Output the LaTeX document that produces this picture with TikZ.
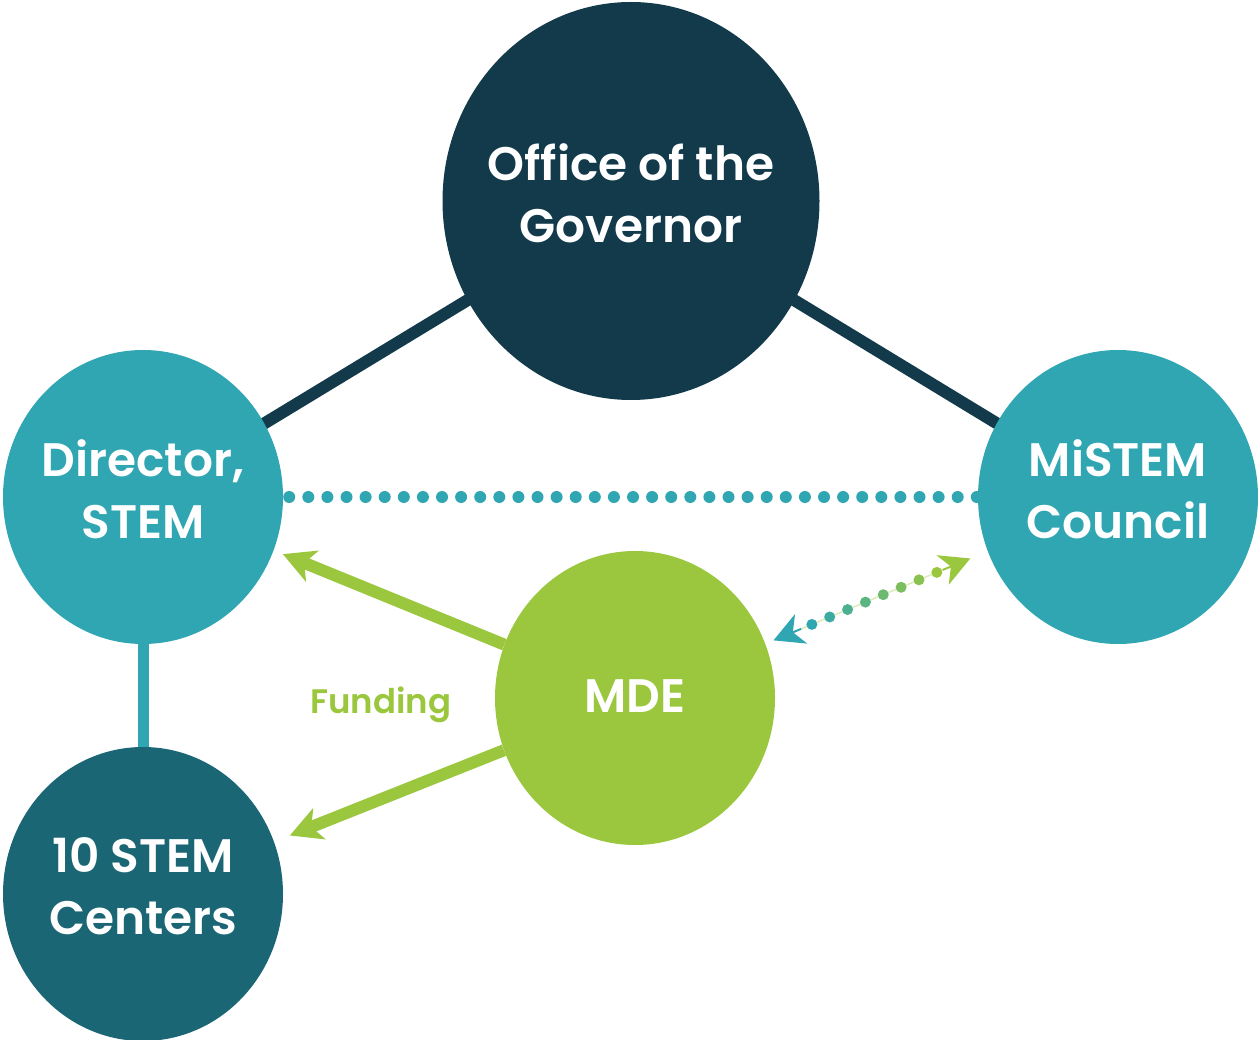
\documentclass[tikz,border=0pt]{standalone}
\usepackage{fontspec}
\setmainfont{Poppins}[BoldFont={Poppins SemiBold}]
\usepackage{tikz}
\usetikzlibrary{arrows.meta, shapes, positioning, calc, backgrounds}
\definecolor{govnavy}{HTML}{133A4B}
\definecolor{stemteal}{HTML}{2FA6B2}
\definecolor{centerteal}{HTML}{1B6675}
\definecolor{mdegreen}{HTML}{9AC73D}
\tikzset{
         mytext/.style={align=center, text=white, yshift=8pt, font=\fontsize{47}{62}\selectfont\bfseries},
         mycirc/.style={ellipse, inner sep=0pt, minimum width=280pt, minimum height=294pt},
         mygov/.style={mycirc, fill=govnavy, minimum width=377pt, minimum height=398pt},
         mylink/.style={line width=12pt},
         mydots/.style={stemteal, line width=12pt, line cap=round, dash pattern=on 0pt off 19.1pt},
         myfund/.style={-{Stealth[length=32pt,width=34pt,inset=9pt,line width=0pt]}, mdegreen, line width=12pt},
         myhead/.style={-{Stealth[length=30pt,width=32pt,inset=9pt,line width=0pt]}, line width=2pt}
      }

\begin{document}
\begin{tikzpicture}[x=1pt,y=-1pt]
  \useasboundingbox (0,0) rectangle (1258,1040);
  \node[mygov, label={[mytext]center:{Office of the\\Governor}}] (gov) at (631,201) {};
  \node[mycirc, fill=stemteal, label={[mytext]center:{Director,\\STEM}}] (dir) at (143,497) {};
  \node[mycirc, fill=stemteal, label={[mytext]center:{MiSTEM\\Council}}] (mis) at (1118,497) {};
  \node[mycirc, fill=centerteal, label={[mytext]center:{10 STEM\\Centers}}] (ctr) at (143,894) {};
  \node[mycirc, fill=mdegreen, label={[mytext, yshift=-6pt]center:MDE}] (mde) at (635,698) {};
  \node[text=mdegreen, font=\fontsize{34}{40}\selectfont\bfseries] (fund) at (381,705) {Funding};

  \begin{scope}[on background layer]
    \draw[mylink, govnavy] (dir.center) -- (gov.center) -- (mis.center);
    \draw[mylink, line width=11pt, stemteal] (dir.center) -- (ctr.center);
  \end{scope}
  \draw[mydots, shorten <=6pt, shorten >=-2pt] (dir) -- (mis);

  \draw[myfund, shorten >=10pt] (mde) -- (dir);
  \draw[myfund, shorten >=17pt] (mde) -- (ctr);

  \coordinate (a) at ($(mde)!150pt!(mis)$);
  \coordinate (b) at ($(mis)!160pt!(mde)$);
  \coordinate (a0) at ($(a)!30pt!(b)$);
  \coordinate (b0) at ($(b)!30pt!(a)$);
  \draw[mdegreen!35, line width=1.5pt] (a0) -- (b0);
  \foreach \i in {0,...,7}{
    \pgfmathtruncatemacro\p{100*\i/7}
    \pgfmathsetmacro\t{0.195+0.0907*\i}
    \fill[mdegreen!\p!stemteal] ($(a)!\t!(b)$) circle (5.5pt);
  }
  \draw[myhead, stemteal] (a0) -- (a);
  \draw[myhead, mdegreen] (b0) -- (b);
\end{tikzpicture}
\end{document}
